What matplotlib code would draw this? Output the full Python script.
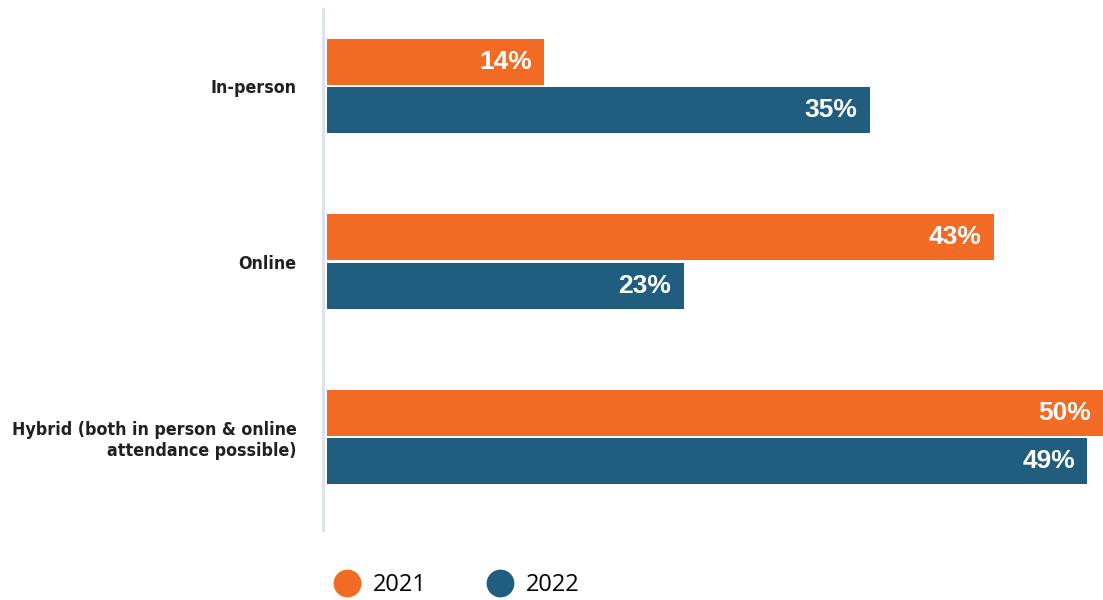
import numpy as np
import matplotlib.pyplot as plt
from matplotlib import font_manager as fm
from matplotlib.lines import Line2D

# data
categories = ["In-person", "Online", "Hybrid (both in person & online\nattendance possible)"]
years = ["2021", "2022"]
share_2021 = [14, 43, 50]
share_2022 = [35, 23, 49]

colors = {"2021": "#F26B24", "2022": "#215D7E"}

# narrow / condensed face for the category labels (DejaVu Sans Condensed Bold here)
cond = [f for f in fm.fontManager.ttflist
        if "Narrow" in f.name or "Condensed" in f.name
        or f.stretch in ("condensed", "semi-condensed", "extra-condensed", "ultra-condensed")]
cond.sort(key=lambda f: (f.style != "normal", abs((f.weight if isinstance(f.weight, int) else 400) - 700)))
if cond:
    cat_font = fm.FontProperties(fname=cond[0].fname, size=12.8)
else:
    cat_font = fm.FontProperties(family="Roboto", weight="medium", size=12.5)

fig = plt.figure(figsize=(11.03, 6), dpi=100)
ax = fig.add_axes([0.2965, 0.1167, 0.7035, 0.8683])

# spine first: set_position resets the ticks
for s in ["top", "right", "bottom"]:
    ax.spines[s].set_visible(False)
ax.spines["left"].set_color("#DDE2EF")
ax.spines["left"].set_linewidth(2.2)
ax.spines["left"].set_position(("outward", 3))

y = np.arange(len(categories))
h = 0.262
off = 0.137

for vals, yr, sign in [(share_2021, "2021", -1), (share_2022, "2022", 1)]:
    bars = ax.barh(y + sign * off, vals, height=h, color=colors[yr], label=yr)
    for b, v in zip(bars, vals):
        ax.annotate(f"{v}%", xy=(b.get_width(), b.get_y() + b.get_height() / 2),
                    xytext=(-9, 0), textcoords="offset points",
                    ha="right", va="center", color="white",
                    fontsize=19, fontweight="bold", family="Liberation Sans")

ax.set_xlim(0, 50)
ax.set_ylim(2.53, -0.439)
ax.set_yticks(y)
ax.set_yticklabels(categories, ma="right", linespacing=1.25,
                   fontproperties=cat_font, color="#231F20")
ax.tick_params(axis="y", length=0, pad=19)
ax.set_xticks([])

handles = [Line2D([], [], marker="o", linestyle="none", markersize=19,
                  markerfacecolor=colors[yr], markeredgecolor=colors[yr]) for yr in years]
fig.legend(handles, years, loc="center", bbox_to_anchor=(0.415, 0.025), ncol=2,
           frameon=False, handlelength=1.0, handletextpad=0.6, columnspacing=2.6,
           prop={"family": "Open Sans", "size": 17})

fig.savefig("out.png", dpi=100)
